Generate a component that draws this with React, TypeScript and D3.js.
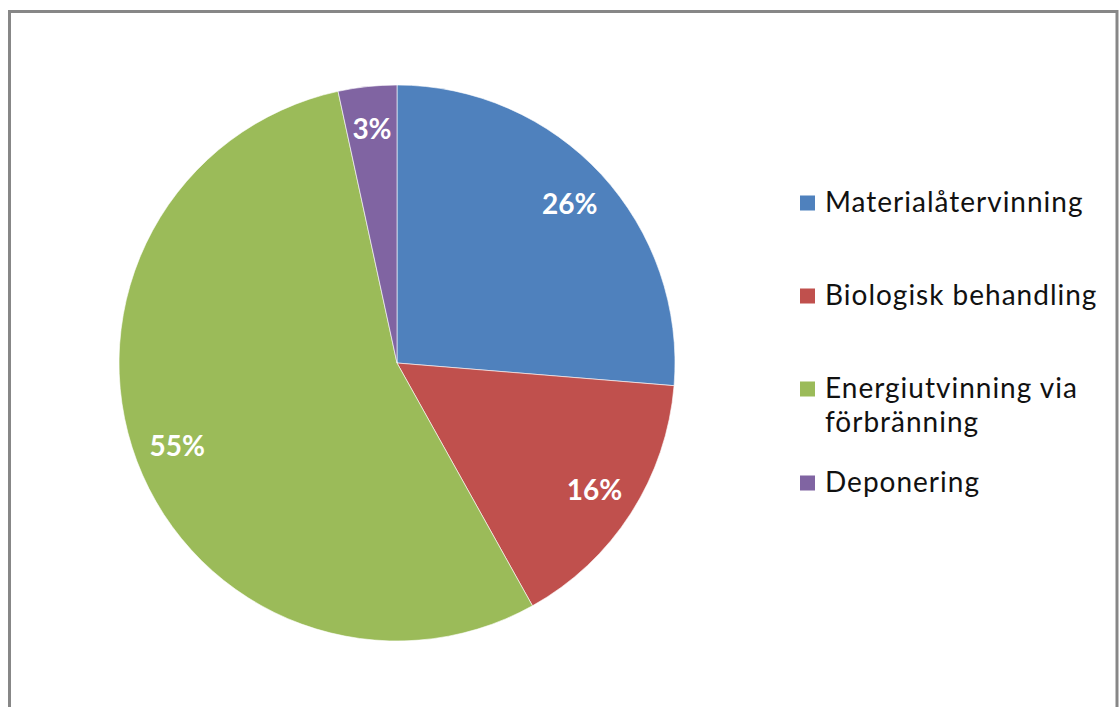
import React from "react";
import * as d3 from "d3";

const categories = ["Materialåtervinning", "Biologisk behandling", "Energiutvinning via förbränning", "Deponering"];
const legendLines = [["Materialåtervinning"], ["Biologisk behandling"], ["Energiutvinning via", "förbränning"], ["Deponering"]];
const values = [26.3, 15.6, 54.7, 3.4];
const labels = ["26%", "16%", "55%", "3%"];
const colors = ["#4F81BD", "#C0504D", "#9BBB59", "#8064A2"];

export default function App() {
  const W = 1119, H = 707;
  const cx = 397, cy = 363, R = 278;
  const pie = d3.pie<number>().sort(null).value((d) => d)(values);
  const arc = d3.arc<d3.PieArcDatum<number>>().innerRadius(0).outerRadius(R);
  const labelArc = d3.arc<d3.PieArcDatum<number>>().innerRadius(R * 0.845).outerRadius(R * 0.845);
  const legendBase = [212, 305, 398, 492];
  const font = "Lato, 'Open Sans', sans-serif";
  return (
    <svg width={W} height={H} style={{ position: "absolute", left: 0, top: 0 }}>
      <rect x={0} y={0} width={W} height={H} fill="#fff" />
      <rect x={9.5} y={11.5} width={1107.5} height={720} fill="#fff" stroke="#878787" strokeWidth={3} />
      <g transform={`translate(${cx},${cy})`}>
        {pie.map((p, i) => (
          <path key={i} d={arc(p) || ""} fill={colors[i]} stroke="#fff" strokeWidth={0.6} />
        ))}
        {pie.map((p, i) => {
          const [x, y] = labelArc.centroid(p);
          return (
            <text key={i} x={x} y={y + 10} textAnchor="middle" fill="#fff" fontWeight="bold" fontSize={28} fontFamily={font}>
              {labels[i]}
            </text>
          );
        })}
      </g>
      {categories.map((c, i) => (
        <g key={c}>
          <rect x={800} y={legendBase[i] - 16.5} width={15} height={15} fill={colors[i]} />
          {legendLines[i].map((ln, j) => (
            <text key={j} x={825} y={legendBase[i] + j * 34} fontSize={28} letterSpacing={1} fontFamily={font} fill="#111">
              {ln}
            </text>
          ))}
        </g>
      ))}
    </svg>
  );
}
